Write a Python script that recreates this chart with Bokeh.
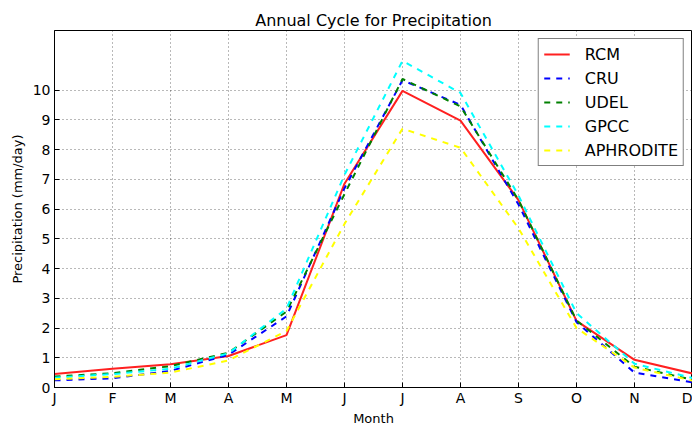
from bokeh.plotting import figure
from bokeh.models import Range1d, FixedTicker, Legend, LegendItem
from bokeh.embed import file_html
from bokeh.resources import INLINE

months = ["J", "F", "M", "A", "M", "J", "J", "A", "S", "O", "N", "D"]
x = list(range(12))
rcm = [0.45, 0.63, 0.78, 1.06, 1.76, 6.85, 9.97, 8.97, 6.30, 2.24, 0.93, 0.47]
cru = [0.24, 0.31, 0.56, 1.10, 2.39, 6.70, 10.33, 9.50, 6.15, 2.20, 0.50, 0.17]
udel = [0.37, 0.48, 0.72, 1.17, 2.55, 6.50, 10.37, 9.45, 6.30, 2.25, 0.70, 0.26]
gpcc = [0.33, 0.45, 0.63, 1.15, 2.65, 7.15, 10.98, 9.90, 6.45, 2.50, 0.80, 0.32]
aphrodite = [0.28, 0.36, 0.50, 0.91, 1.90, 5.50, 8.70, 8.06, 5.35, 2.00, 0.67, 0.23]
y_ticks = list(range(11))

FONT = "DejaVu Sans"

p = figure(width=692, height=428, output_backend="svg", toolbar_location=None,
           x_range=Range1d(0, 11), y_range=Range1d(0, 12),
           min_border_left=54, min_border_right=0, min_border_top=30, min_border_bottom=39)

p.title.text = "Annual Cycle for Precipitation"
p.title.align = "center"
p.title.text_font = FONT
p.title.text_font_size = "16px"
p.title.text_font_style = "normal"
p.title.text_color = "black"
p.title.standoff = 2

p.outline_line_color = "black"
p.outline_line_width = 1
p.background_fill_color = "white"
p.border_fill_color = "white"

p.xaxis.ticker = FixedTicker(ticks=x)
p.xaxis.major_label_overrides = {i: m for i, m in enumerate(months)}
p.yaxis.ticker = FixedTicker(ticks=y_ticks)
p.xaxis.axis_label = "Month"
p.yaxis.axis_label = "Precipitation (mm/day)"
for ax in (p.xaxis, p.yaxis):
    ax.axis_label_text_font = FONT
    ax.axis_label_text_font_size = "13px"
    ax.axis_label_text_font_style = "normal"
    ax.axis_label_text_color = "black"
    ax.major_label_text_font = FONT
    ax.major_label_text_font_size = "14px"
    ax.major_label_text_color = "black"
    ax.axis_line_color = "black"
    ax.major_tick_in = 5
    ax.major_tick_out = 0
    ax.major_tick_line_color = "black"
    ax.minor_tick_line_color = None
p.xaxis.major_label_standoff = 2
p.xaxis.axis_label_standoff = 2
p.yaxis.major_label_standoff = 4
p.yaxis.axis_label_standoff = 5

for g in (p.xgrid, p.ygrid):
    g.grid_line_color = "black"
    g.grid_line_alpha = 0.55
    g.grid_line_dash = "1 3"
    g.grid_line_width = 1

series = [
    ("RCM", rcm, "#ff2020", "solid"),
    ("CRU", cru, "#0000ff", "6 6"),
    ("UDEL", udel, "#008000", "6 6"),
    ("GPCC", gpcc, "#00ffff", "6 6"),
    ("APHRODITE", aphrodite, "#ffff00", "6 6"),
]
items = []
for name, vals, color, dash in series:
    r = p.line(x, vals, line_color=color, line_width=2, line_dash=dash)
    items.append(LegendItem(label=name, renderers=[r]))

legend = Legend(items=items, location="top_right")
legend.label_text_font = FONT
legend.label_text_font_size = "16px"
legend.label_text_color = "black"
legend.border_line_color = "black"
legend.border_line_width = 1
legend.background_fill_color = "white"
legend.background_fill_alpha = 1
legend.padding = 5
legend.spacing = 4
legend.margin = 8
legend.glyph_width = 26
legend.glyph_height = 20
legend.label_height = 20
legend.label_standoff = 15
p.add_layout(legend)

open("out.html", "w").write(file_html(p, INLINE))
